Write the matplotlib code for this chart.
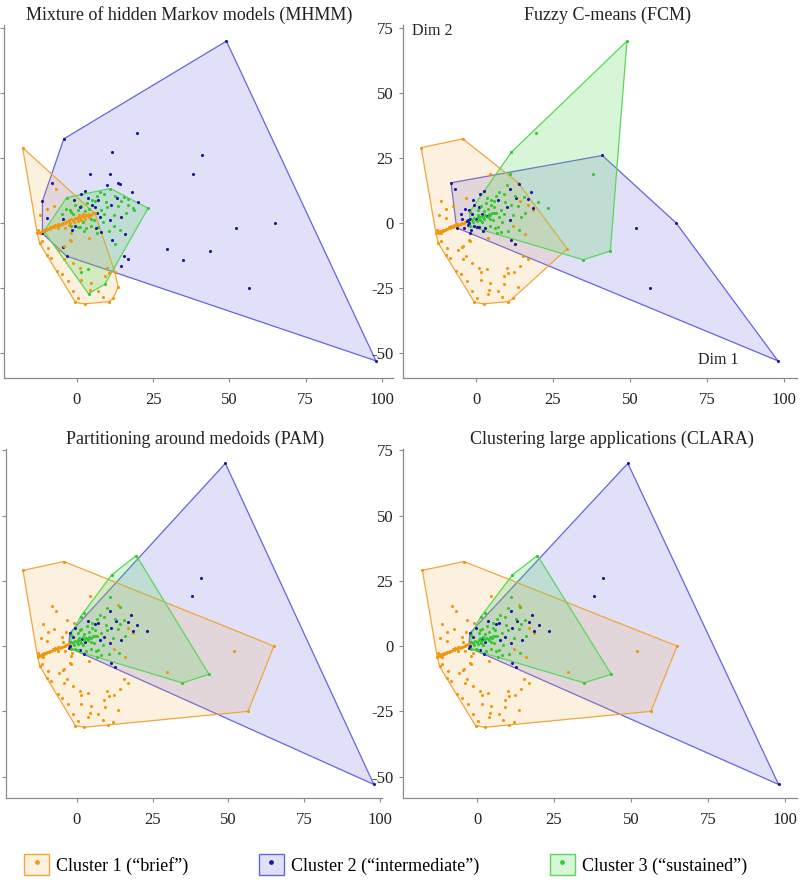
import matplotlib
matplotlib.use('Agg')
import matplotlib.pyplot as plt
from matplotlib.colors import to_rgba
from matplotlib.patches import Patch
from matplotlib.lines import Line2D

plt.rcParams['font.family'] = ['Liberation Serif', 'DejaVu Serif']
plt.rcParams['axes.unicode_minus'] = False

# projected sessions (Dim 1, Dim 2), same points in every panel
dim1 = [
    # hull corners / far points
    49.0, 98.0, 41.0, 38.0, 65.0, 56.5, 52.0, 19.6, 11.5, 34.8,
    43.6, 29.6, -17.8, -4.3, 13.6, 14.1, 23.3, 11.0, -3.4, 9.2,
    3.8, 12.4, 13.5, 11.9, 10.4, 2.5, -0.5, -9.9, -12.2, -12.8,
    -11.3, -11.3, -3.4, -10.8, -8.1, -6.3, -1.9, -2.4, -2.6, 1.2,
    -2.0, -2.1, 5.9,
    # scattered
    4.4, 11.0, 17.9, 16.8, 14.3, 15.8, 14.6, 11.4, -4.5, -9.9,
    -6.8, 18.5, 16.9, 16.8, 18.6, 14.3, 12.1, 10.0, 15.4, 6.7,
    4.0, -1.9, -4.2, -5.8, -9.7, -11.5, -9.5, -8.5, -6.4, -5.0,
    -3.0, -1.4, 0.2, -4.1, -1.4, 3.5, 4.5, 7.0, 10.5, 8.5,
    1.5, 0.9, 4.2, 9.1, -2.4, -12.0, -7.5, 1.5,
    # streak, left part
    -13.0, -12.5, -12.0, -11.6, -11.1, -10.7, -10.2, -9.8, -9.3, -8.9,
    -8.4, -8.0, -7.5, -7.1, -6.6, -6.2, -5.7, -5.3, -4.8, -4.4,
    -3.9, -3.5,
    # streak, right part
    -3.0, -2.5, -1.9, -1.3, -0.7, -0.1, 0.5, 1.1, 1.7, 2.3,
    2.9, 3.5, 4.1, 4.7, 5.3, 0.2, 1.4, 2.6, 3.8, -1.0,
    0.8, 2.0, -2.2,
    # core
    0.5, 1.5, 2.5, 3.2, 4.0, 5.0, 6.0, 7.0, 5.9, 1.0,
    7.5, 6.2, 13.0, 11.3, 8.0, 9.0, 10.0, 8.5, 7.0, 4.5,
    3.0, 1.0, -0.5, 2.0, 5.5, 6.5, 9.5, 12.0, 12.5, 15.5,
    10.5, 14.0, 9.0, 6.5, 3.5, -0.5, -1.2, 0.3, 2.2, 4.5,
    -1.5, -4.5, -5.0, -3.5, -4.0, 8.0, 5.0, 11.0, 16.0, 20.0,
    12.5, 13.5, 7.5, 10.0, 2.5, -1.0,
]
dim2 = [
    70.0, -53.0, 26.0, 19.0, 0.0, -25.0, -1.8, 34.7, 27.3, -14.1,
    -10.8, -9.9, 29.0, 32.4, 15.6, 15.0, 5.7, 13.3, 9.8, -23.5,
    -27.2, -18.7, -24.5, -29.0, -30.2, -31.1, -30.5, -12.3, -7.8, -2.8,
    -4.0, 8.5, -12.7, -3.2, 15.5, -1.8, -3.7, 4.9, -0.6, 11.3,
    4.4, -1.2, 3.7,
    19.0, 18.8, 11.8, -14.0, -16.4, -4.2, 2.4, -6.6, -9.1, 1.8,
    13.3, 5.8, 9.2, 7.1, 5.0, 8.5, -1.0, -17.3, -12.5, -4.0,
    -5.6, -6.9, -8.8, -10.3, 5.3, -6.9, -9.5, -13.4, -18.5, -19.7,
    -22.3, -26.2, -28.7, -14.0, -15.3, -17.8, -23.0, -26.0, -19.1, -28.3,
    -22.0, -17.3, -25.6, -20.5, -6.4, 3.0, 6.5, -18.7,
    -4.0, -3.3, -3.7, -2.9, -3.2, -2.5, -2.8, -2.1, -2.3, -1.7,
    -1.9, -1.3, -1.5, -0.9, -1.1, -0.5, -0.7, -0.2, -0.4, 0.1,
    -0.1, 0.4,
    0.7, 1.0, 1.4, 1.2, 1.8, 1.6, 2.2, 2.0, 2.6, 2.4,
    3.0, 2.8, 3.4, 3.2, 3.7, 0.9, 1.1, 1.7, 2.2, 0.4,
    3.0, 3.5, 0.2,
    5.0, 6.5, 4.5, 7.8, 5.5, 7.0, 8.5, 8.8, 6.3, 6.3,
    2.4, -2.0, 9.5, 6.9, 5.0, 3.5, 6.0, 0.5, -1.5, -1.0,
    -1.8, -1.5, -1.0, 0.3, 1.0, 4.0, 8.0, 3.0, 10.5, 10.0,
    -3.0, -2.5, 11.0, 10.5, 9.5, 6.8, 3.5, -1.6, -3.0, 1.5,
    -2.5, 1.5, 3.5, 5.5, -2.0, -3.5, 9.0, 1.0, 4.0, 8.0,
    -8.0, 6.5, 12.0, 14.5, 12.5, 9.0,
]

# cluster per method: 1 brief, 2 intermediate, 3 sustained
lab_mhmm = [
    2, 2, 2, 2, 2, 2, 2, 2, 2, 2, 2, 2, 1, 2, 2, 2, 3, 3, 3, 3,
    3, 1, 1, 1, 1, 1, 1, 1, 1, 1, 2, 2, 2, 3, 2, 1, 1, 3, 1, 2,
    3, 3, 1,
    2, 2, 2, 2, 2, 2, 2, 2, 2, 2, 1, 3, 3, 3, 3, 3, 3, 1, 2, 3,
    1, 1, 1, 1, 1, 1, 1, 1, 1, 1, 1, 1, 1, 1, 1, 3, 1, 1, 1, 1,
    1, 1, 1, 1, 1, 1, 1, 3,
    1, 1, 1, 1, 1, 1, 1, 1, 1, 1, 1, 1, 1, 1, 1, 1, 1, 1, 1, 1,
    1, 1,
    1, 1, 1, 1, 1, 1, 1, 1, 1, 1, 1, 1, 1, 1, 1, 1, 1, 1, 1, 1,
    1, 1, 1,
    3, 3, 3, 3, 3, 2, 3, 2, 2, 2, 2, 2, 2, 2, 3, 3, 3, 3, 3, 3,
    3, 3, 2, 3, 3, 2, 3, 3, 3, 3, 3, 3, 3, 3, 2, 3, 3, 3, 3, 3,
    2, 2, 3, 3, 1, 2, 3, 2, 3, 2, 3, 3, 3, 2, 2, 2,
]
lab_fcm = [
    3, 2, 2, 3, 2, 2, 2, 3, 3, 3, 3, 1, 1, 1, 1, 2, 3, 2, 1, 1,
    1, 1, 1, 1, 1, 1, 1, 1, 1, 1, 1, 1, 1, 1, 2, 2, 2, 2, 2, 2,
    3, 3, 3,
    1, 3, 2, 1, 1, 1, 3, 2, 1, 1, 2, 2, 2, 1, 1, 1, 1, 1, 1, 3,
    1, 1, 1, 1, 1, 1, 1, 1, 1, 1, 1, 1, 1, 1, 1, 1, 1, 1, 1, 1,
    1, 1, 1, 1, 1, 1, 1, 1,
    1, 1, 1, 1, 1, 1, 1, 1, 1, 1, 1, 1, 1, 1, 1, 1, 1, 1, 1, 1,
    1, 1,
    2, 2, 2, 3, 3, 2, 3, 3, 3, 3, 3, 2, 3, 3, 3, 3, 3, 3, 3, 3,
    3, 2, 2,
    3, 3, 3, 3, 3, 3, 3, 2, 3, 2, 3, 3, 2, 3, 3, 3, 2, 3, 3, 3,
    2, 2, 2, 3, 3, 3, 3, 3, 3, 3, 3, 3, 3, 3, 3, 2, 2, 2, 2, 3,
    2, 2, 2, 2, 2, 3, 3, 2, 3, 3, 2, 3, 3, 3, 2, 2,
]
lab_pam = [
    2, 2, 2, 2, 1, 1, 1, 3, 3, 3, 3, 1, 1, 1, 1, 3, 2, 2, 1, 1,
    1, 1, 1, 1, 1, 1, 1, 1, 1, 1, 1, 1, 1, 1, 1, 1, 1, 2, 2, 3,
    3, 3, 3,
    1, 3, 2, 1, 1, 1, 2, 2, 1, 1, 1, 2, 2, 1, 1, 3, 1, 1, 1, 3,
    1, 1, 1, 1, 1, 1, 1, 1, 1, 1, 1, 1, 1, 1, 1, 1, 1, 1, 1, 1,
    1, 1, 1, 1, 1, 1, 1, 1,
    1, 1, 1, 1, 1, 1, 1, 1, 1, 1, 1, 1, 1, 1, 1, 1, 1, 1, 1, 1,
    1, 1,
    1, 1, 3, 3, 3, 3, 3, 3, 2, 3, 3, 3, 3, 3, 3, 3, 3, 2, 3, 3,
    3, 3, 2,
    3, 3, 3, 3, 3, 3, 2, 2, 3, 3, 2, 3, 2, 2, 3, 2, 3, 3, 3, 3,
    3, 2, 3, 3, 3, 3, 3, 3, 3, 3, 3, 3, 3, 3, 2, 2, 2, 3, 2, 3,
    1, 1, 1, 1, 1, 3, 3, 2, 3, 2, 2, 3, 3, 3, 3, 1,
]
lab_clara = list(lab_pam)  # CLARA gave the same partition as PAM

titles = ['Mixture of hidden Markov models (MHMM)', 'Fuzzy C-means (FCM)',
          'Partitioning around medoids (PAM)', 'Clustering large applications (CLARA)']
legend_names = ['Cluster 1 (\u201cbrief\u201d)', 'Cluster 2 (\u201cintermediate\u201d)',
                'Cluster 3 (\u201csustained\u201d)']

edge_col = {1: '#F2A53A', 2: '#6464E2', 3: '#5AD65A'}
fill_alpha = {1: 0.16, 2: 0.2, 3: 0.24}
dot_col = {1: '#F0960F', 2: '#1818A0', 3: '#33C833'}


def convex_hull(xs, ys):
    pts = sorted(set(zip(xs, ys)))
    if len(pts) < 3:
        return pts

    def cross(o, a, b):
        return (a[0]-o[0])*(b[1]-o[1]) - (a[1]-o[1])*(b[0]-o[0])
    lower = []
    for p in pts:
        while len(lower) >= 2 and cross(lower[-2], lower[-1], p) <= 0:
            lower.pop()
        lower.append(p)
    upper = []
    for p in reversed(pts):
        while len(upper) >= 2 and cross(upper[-2], upper[-1], p) <= 0:
            upper.pop()
        upper.append(p)
    return lower[:-1] + upper[:-1]


fig = plt.figure(figsize=(8, 8.8), dpi=100)
W, H = 800., 880.
# [left, right, top, bottom] in pixels, xlim, ylim, title x, y labels shown
panels = [
    ([4, 393, 25, 378], (-23.9, 103.6), (-59.6, 76.2), 0.475, False),
    ([403, 797, 25, 378], (-23.7, 104.2), (-59.6, 76.2), 0.518, True),
    ([6, 382, 449, 798], (-23.4, 100.7), (-58.2, 75.5), 0.503, False),
    ([403, 797, 449, 798], (-24.1, 104.0), (-58.2, 75.5), 0.53, True),
]
labels_all = [lab_mhmm, lab_fcm, lab_pam, lab_clara]
dot_order = [[3, 2, 1], [1, 2, 3], [1, 2, 3], [1, 2, 3]]

for k, (box, xl, yl, tx, show_y) in enumerate(panels):
    l, r, t, b = box
    ax = fig.add_axes([l/W, 1-b/H, (r-l)/W, (b-t)/H])
    lab = labels_all[k]
    for c in [2, 1, 3]:
        xs = [x for x, g in zip(dim1, lab) if g == c]
        ys = [y for y, g in zip(dim2, lab) if g == c]
        hull = convex_hull(xs, ys)
        hx = [p[0] for p in hull]
        hy = [p[1] for p in hull]
        ax.fill(hx, hy, facecolor=to_rgba(edge_col[c], fill_alpha[c]),
                edgecolor=edge_col[c], linewidth=0.9, zorder=1)
    for c in dot_order[k]:
        xs = [x for x, g in zip(dim1, lab) if g == c]
        ys = [y for y, g in zip(dim2, lab) if g == c]
        ax.scatter(xs, ys, s=5, color=dot_col[c], linewidths=0, zorder=3)
    ax.set_xlim(xl)
    ax.set_ylim(yl)
    ax.set_xticks([0, 25, 50, 75, 100])
    ax.set_yticks([-50, -25, 0, 25, 50, 75])
    for s in ['top', 'right']:
        ax.spines[s].set_visible(False)
    for s in ['left', 'bottom']:
        ax.spines[s].set_color('#8a8a8a')
        ax.spines[s].set_linewidth(0.9)
    ax.tick_params(colors='#8a8a8a', labelcolor='#222222', labelsize=12,
                   length=3, width=0.8)
    ax.tick_params(axis='x', pad=7)
    ax.tick_params(axis='y', pad=4, labelleft=show_y)
    ax.set_title(titles[k], fontsize=13, x=tx, pad=4, color='#222222')
    if k == 1:
        ax.text(0.023, 0.983, 'Dim 2', transform=ax.transAxes, fontsize=11.5,
                ha='left', va='center', color='#222222')
        ax.text(0.749, 0.051, 'Dim 1', transform=ax.transAxes, fontsize=11.5,
                ha='left', va='center', color='#222222')

handles = []
for c in [1, 2, 3]:
    box_h = Patch(facecolor=to_rgba(edge_col[c], fill_alpha[c]), edgecolor=edge_col[c], linewidth=1)
    dot_h = Line2D([], [], ls='none', marker='o', ms=2.4, color=dot_col[c])
    handles.append((box_h, dot_h))
fig.legend(handles, legend_names, loc='center left', bbox_to_anchor=(24/W, 1-864.5/H),
           ncol=3, frameon=False, fontsize=13, handlelength=1.39, handleheight=1.39,
           handletextpad=0.39, columnspacing=3.9, borderpad=0, borderaxespad=0)

fig.savefig('out.png', dpi=100)
